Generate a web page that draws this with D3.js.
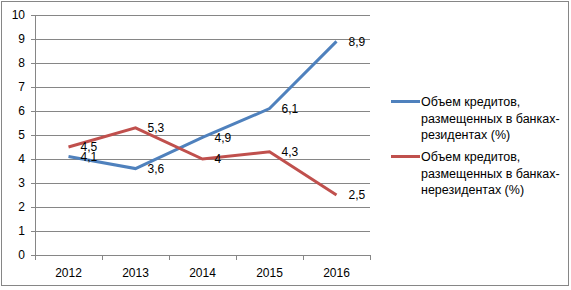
<!DOCTYPE html>
<html>
<head>
<meta charset="utf-8">
<script src="https://cdn.jsdelivr.net/npm/d3@7"></script>
<style>
	body { margin: 0; background: #fff; }
	text { font-family: "Liberation Sans", Arial, sans-serif; font-size: 12px; fill: #000; }
	text.legend { font-size: 12.5px; }
</style>
</head>
<body>
<div id="chart"></div>
<script>
const years = ["2012", "2013", "2014", "2015", "2016"];
const residents = [4.1, 3.6, 4.9, 6.1, 8.9];
const nonResidents = [4.5, 5.3, 4.0, 4.3, 2.5];
const yTicks = [0, 1, 2, 3, 4, 5, 6, 7, 8, 9, 10];
const seriesNames = [
	["Объем кредитов,", "размещенных в банках-", "резидентах (%)"],
	["Объем кредитов,", "размещенных в банках-", "нерезидентах (%)"]
];
const colors = ["#4f81bd", "#c0504d"];

const width = 571, height = 290;
const svg = d3.select("#chart").append("svg")
	.attr("width", width)
	.attr("height", height);

svg.append("rect")
	.attr("x", 1.5).attr("y", 1.5)
	.attr("width", 567).attr("height", 284)
	.attr("fill", "#fff")
	.attr("stroke", "#868686");

const plotLeft = 35, plotRight = 370, plotTop = 15, plotBottom = 255;

const x = d3.scaleBand().domain(years).range([plotLeft, plotRight]);
const y = d3.scaleLinear().domain([0, 10]).range([plotBottom, plotTop]);

// gridlines
svg.selectAll("line.grid")
	.data(yTicks)
	.enter().append("line")
	.attr("class", "grid")
	.attr("x1", plotLeft - 4)
	.attr("x2", plotRight)
	.attr("y1", d => Math.round(y(d)) + 0.5)
	.attr("y2", d => Math.round(y(d)) + 0.5)
	.style("stroke", "#868686");

// y axis
svg.append("line")
	.attr("x1", plotLeft + 0.5).attr("x2", plotLeft + 0.5)
	.attr("y1", plotTop).attr("y2", plotBottom)
	.style("stroke", "#868686");

svg.selectAll("text.ytick")
	.data(yTicks)
	.enter().append("text")
	.attr("class", "ytick")
	.attr("x", 25)
	.attr("y", d => y(d))
	.attr("dy", "0.35em")
	.attr("text-anchor", "end")
	.text(d => d);

// x axis ticks
const xTickPos = years.map(d => x(d)).concat([plotRight]);
svg.selectAll("line.xtick")
	.data(xTickPos)
	.enter().append("line")
	.attr("class", "xtick")
	.attr("x1", d => Math.round(d) + 0.5)
	.attr("x2", d => Math.round(d) + 0.5)
	.attr("y1", plotBottom)
	.attr("y2", plotBottom + 5)
	.style("stroke", "#868686");

svg.selectAll("text.xlabel")
	.data(years)
	.enter().append("text")
	.attr("class", "xlabel")
	.attr("x", d => x(d) + x.bandwidth() / 2)
	.attr("y", 273)
	.attr("dy", "0.35em")
	.attr("text-anchor", "middle")
	.text(d => d);

const line = d3.line()
	.x((d, i) => x(years[i]) + x.bandwidth() / 2)
	.y(d => y(d));

[residents, nonResidents].forEach((values, s) => {
	svg.append("path")
		.attr("d", line(values))
		.style("fill", "none")
		.style("stroke", colors[s])
		.style("stroke-width", "3px");
});

[residents, nonResidents].forEach(values => {
	svg.selectAll(null)
		.data(values)
		.enter().append("text")
		.attr("x", (d, i) => x(years[i]) + x.bandwidth() / 2 + 12)
		.attr("y", d => y(d))
		.attr("dy", "0.35em")
		.text(d => String(d).replace(".", ","));
});

// legend
const legendY = [101.5, 156.5];
seriesNames.forEach((lines, s) => {
	svg.append("line")
		.attr("x1", 391).attr("x2", 420)
		.attr("y1", legendY[s]).attr("y2", legendY[s])
		.style("stroke", colors[s])
		.style("stroke-width", "3px");
	svg.selectAll(null)
		.data(lines)
		.enter().append("text")
		.attr("class", "legend")
		.attr("x", 421)
		.attr("y", (d, i) => legendY[s] + i * 16.7)
		.attr("dy", "0.35em")
		.text(d => d);
});
</script>
</body>
</html>
